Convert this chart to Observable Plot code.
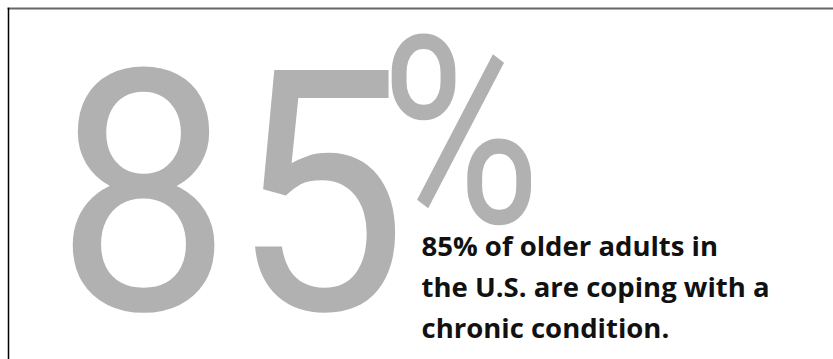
<!DOCTYPE html>
<html>
<head>
<meta charset="utf-8">
<script src="https://cdn.jsdelivr.net/npm/d3@7"></script>
<script src="https://cdn.jsdelivr.net/npm/@observablehq/plot@0.6"></script>
<style>
  html, body { margin: 0; padding: 0; background: #fff; }
  #chart svg { display: block; }
</style>
</head>
<body>
<div id="chart"></div>
<script>
// Data
const statValue = [85];
const statUnit = ["%"];
const statLabelLines = ["85% of older adults in", "the U.S. are coping with a", "chronic condition."];

const gray = "#b1b1b2";

const plot = Plot.plot({
  width: 833,
  height: 359,
  marginTop: 8,
  marginLeft: 8,
  marginRight: 0,
  marginBottom: 0,
  x: {axis: null},
  y: {axis: null},
  marks: [
    Plot.frame({anchor: "top", stroke: "#666", strokeWidth: 2}),
    Plot.frame({anchor: "left", stroke: "#000", strokeWidth: 1.5}),
    Plot.text(statValue, {
      text: d => String(d),
      frameAnchor: "top-left",
      textAnchor: "start",
      lineAnchor: "bottom",
      dx: 47,
      dy: 301,
      fontSize: 337,
      fontFamily: "Roboto",
      fontWeight: 400,
      fill: gray,
      className: "big-num"
    }),
    Plot.text(statUnit, {
      text: d => d,
      frameAnchor: "top-left",
      textAnchor: "start",
      lineAnchor: "bottom",
      dx: 372,
      dy: 214,
      fontSize: 262,
      fontFamily: "Roboto",
      fontWeight: 400,
      fill: gray,
      className: "big-unit"
    }),
    Plot.text([statLabelLines.join("\n")], {
      text: d => d,
      frameAnchor: "top-left",
      textAnchor: "start",
      lineAnchor: "top",
      lineHeight: 1.48,
      dx: 413,
      dy: 219,
      fontSize: 27.5,
      fontFamily: "Open Sans",
      fontWeight: 700,
      fill: "#111"
    })
  ]
});

// condense the large display digits horizontally
d3.select(plot).selectAll("g.big-num text").attr("textLength", 352).attr("lengthAdjust", "spacingAndGlyphs");
d3.select(plot).selectAll("g.big-unit text").attr("textLength", 160).attr("lengthAdjust", "spacingAndGlyphs");

document.getElementById("chart").appendChild(plot);
</script>
</body>
</html>
